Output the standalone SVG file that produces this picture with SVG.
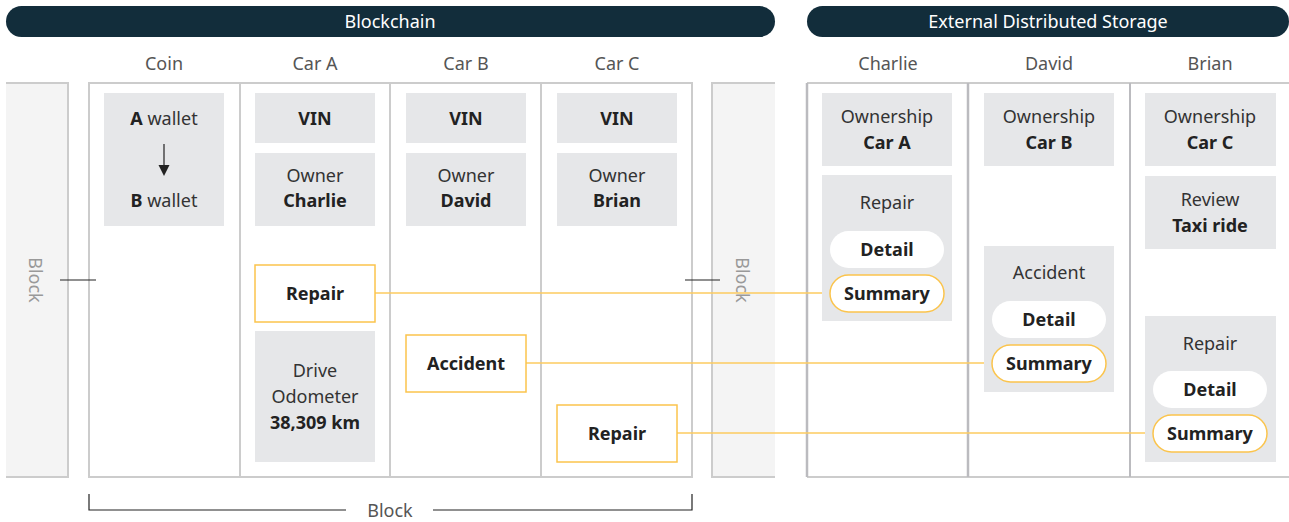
<svg xmlns="http://www.w3.org/2000/svg" width="1289" height="522" viewBox="0 0 1289 522">
<style>
text{font-family:"Noto Sans","Noto Sans CJK KR",sans-serif;font-size:18px;text-anchor:middle;dominant-baseline:central;fill:#333}
.b{font-weight:bold;fill:#222}
.hd{fill:#fff;font-size:18px}
.col{fill:#555}
.blk{fill:#999}
.g{fill:#e6e7e9}
.o{fill:#fff;stroke:#fbc44c;stroke-width:1.5}
.pw{fill:#fff}
.po{fill:#fff;stroke:#fbc44c;stroke-width:1.5}
.frame{fill:none;stroke:#cccccc;stroke-width:2}
.conn{stroke:#fdcb5f;stroke-width:1.5;fill:none}
.tick{stroke:#222;stroke-width:1.2;fill:none}
</style>
<!-- headers -->
<g id="hdr-blockchain"><rect x="6" y="6" width="769" height="31" rx="15.5" fill="#122d3b"/><text class="hd" x="390" y="21">Blockchain</text></g>
<g id="hdr-storage"><rect x="807" y="6" width="482" height="31" rx="15.5" fill="#122d3b"/><text class="hd" x="1048" y="21">External Distributed Storage</text></g>
<!-- column headers -->
<g id="col-headers">
<text class="col" x="164" y="63">Coin</text>
<text class="col" x="315" y="63">Car A</text>
<text class="col" x="466" y="63">Car B</text>
<text class="col" x="617" y="63">Car C</text>
<text class="col" x="888" y="63">Charlie</text>
<text class="col" x="1049" y="63">David</text>
<text class="col" x="1210" y="63">Brian</text>
</g>
<!-- side blocks -->
<g id="block-left">
<rect x="6" y="83" width="62" height="394" fill="#f4f4f4"/>
<path d="M6,83 H68 V477 H6" class="frame"/>
<text class="blk" x="36" y="280" transform="rotate(90 36 280)">Block</text>
</g>
<g id="block-right">
<rect x="712" y="83" width="63" height="394" fill="#f4f4f4"/>
<path d="M775,83 H712 V477 H775" class="frame"/>
<text class="blk" x="743" y="280" transform="rotate(90 743 280)">Block</text>
</g>
<!-- main frame -->
<g id="main-frame">
<rect x="89" y="83" width="603" height="394" class="frame"/>
<line x1="240" y1="83" x2="240" y2="477" class="frame"/>
<line x1="390" y1="83" x2="390" y2="477" class="frame"/>
<line x1="541" y1="83" x2="541" y2="477" class="frame"/>
</g>
<g id="storage-frame">
<path d="M807,83 H1289 M807,477 H1289" class="frame"/>
<line x1="807" y1="83" x2="807" y2="477" stroke="#bbbbbf" stroke-width="2.5"/>
<line x1="968" y1="83" x2="968" y2="477" stroke="#bbbbbf" stroke-width="2.5"/>
<line x1="1130" y1="83" x2="1130" y2="477" stroke="#bbbbbf" stroke-width="2"/>
</g>
<!-- connectors -->
<g id="connectors">
<line x1="375" y1="293" x2="830" y2="293" class="conn"/>
<line x1="526" y1="363" x2="992" y2="363" class="conn"/>
<line x1="677" y1="433" x2="1153" y2="433" class="conn"/>
<line x1="60" y1="280" x2="96" y2="280" class="tick"/>
<line x1="685" y1="280" x2="720" y2="280" class="tick"/>
<path d="M89,494 V510 H346 M433,510 H692 V494" class="tick"/>
<text class="col" x="390" y="510">Block</text>
</g>
<!-- Coin -->
<g id="coin-wallet">
<rect x="104" y="93" width="120" height="133" class="g"/>
<text x="164" y="118"><tspan class="b">A</tspan> wallet</text>
<line x1="164" y1="144" x2="164" y2="166" stroke="#222" stroke-width="1.2"/>
<polygon points="158.5,165 169.5,165 164,176" fill="#222"/>
<text x="164" y="200"><tspan class="b">B</tspan> wallet</text>
</g>
<!-- Car A -->
<g id="cara-vin"><rect x="255" y="93" width="120" height="50" class="g"/><text class="b" x="315" y="118">VIN</text></g>
<g id="cara-owner"><rect x="255" y="153" width="120" height="73" class="g"/><text x="315" y="175">Owner</text><text class="b" x="315" y="200">Charlie</text></g>
<g id="cara-repair"><rect x="255" y="265" width="120" height="57" class="o"/><text class="b" x="315" y="293">Repair</text></g>
<g id="cara-drive"><rect x="255" y="331" width="120" height="131" class="g"/><text x="315" y="370">Drive</text><text x="315" y="396">Odometer</text><text class="b" x="315" y="422">38,309 km</text></g>
<!-- Car B -->
<g id="carb-vin"><rect x="406" y="93" width="120" height="50" class="g"/><text class="b" x="466" y="118">VIN</text></g>
<g id="carb-owner"><rect x="406" y="153" width="120" height="73" class="g"/><text x="466" y="175">Owner</text><text class="b" x="466" y="200">David</text></g>
<g id="carb-accident"><rect x="406" y="335" width="120" height="57" class="o"/><text class="b" x="466" y="363">Accident</text></g>
<!-- Car C -->
<g id="carc-vin"><rect x="557" y="93" width="120" height="50" class="g"/><text class="b" x="617" y="118">VIN</text></g>
<g id="carc-owner"><rect x="557" y="153" width="120" height="73" class="g"/><text x="617" y="175">Owner</text><text class="b" x="617" y="200">Brian</text></g>
<g id="carc-repair"><rect x="557" y="405" width="120" height="57" class="o"/><text class="b" x="617" y="433">Repair</text></g>
<!-- Charlie -->
<g id="charlie-ownership"><rect x="822" y="93" width="130" height="73" class="g"/><text x="887" y="116">Ownership</text><text class="b" x="887" y="142">Car A</text></g>
<g id="charlie-repair"><rect x="822" y="175" width="130" height="146" class="g"/><text x="887" y="202">Repair</text>
<rect x="830" y="231" width="114" height="37" rx="18.5" class="pw"/><text class="b" x="887" y="249">Detail</text>
<rect x="830" y="275" width="114" height="37" rx="18.5" class="po"/><text class="b" x="887" y="293">Summary</text></g>
<!-- David -->
<g id="david-ownership"><rect x="984" y="93" width="130" height="73" class="g"/><text x="1049" y="116">Ownership</text><text class="b" x="1049" y="142">Car B</text></g>
<g id="david-accident"><rect x="984" y="246" width="130" height="146" class="g"/><text x="1049" y="272">Accident</text>
<rect x="992" y="301" width="114" height="37" rx="18.5" class="pw"/><text class="b" x="1049" y="319">Detail</text>
<rect x="992" y="345" width="114" height="37" rx="18.5" class="po"/><text class="b" x="1049" y="363">Summary</text></g>
<!-- Brian -->
<g id="brian-ownership"><rect x="1145" y="93" width="131" height="73" class="g"/><text x="1210" y="116">Ownership</text><text class="b" x="1210" y="142">Car C</text></g>
<g id="brian-review"><rect x="1145" y="176" width="131" height="73" class="g"/><text x="1210" y="199">Review</text><text class="b" x="1210" y="225">Taxi ride</text></g>
<g id="brian-repair"><rect x="1145" y="316" width="131" height="146" class="g"/><text x="1210" y="343">Repair</text>
<rect x="1153" y="371" width="114" height="37" rx="18.5" class="pw"/><text class="b" x="1210" y="389">Detail</text>
<rect x="1153" y="415" width="114" height="37" rx="18.5" class="po"/><text class="b" x="1210" y="433">Summary</text></g>
</svg>
